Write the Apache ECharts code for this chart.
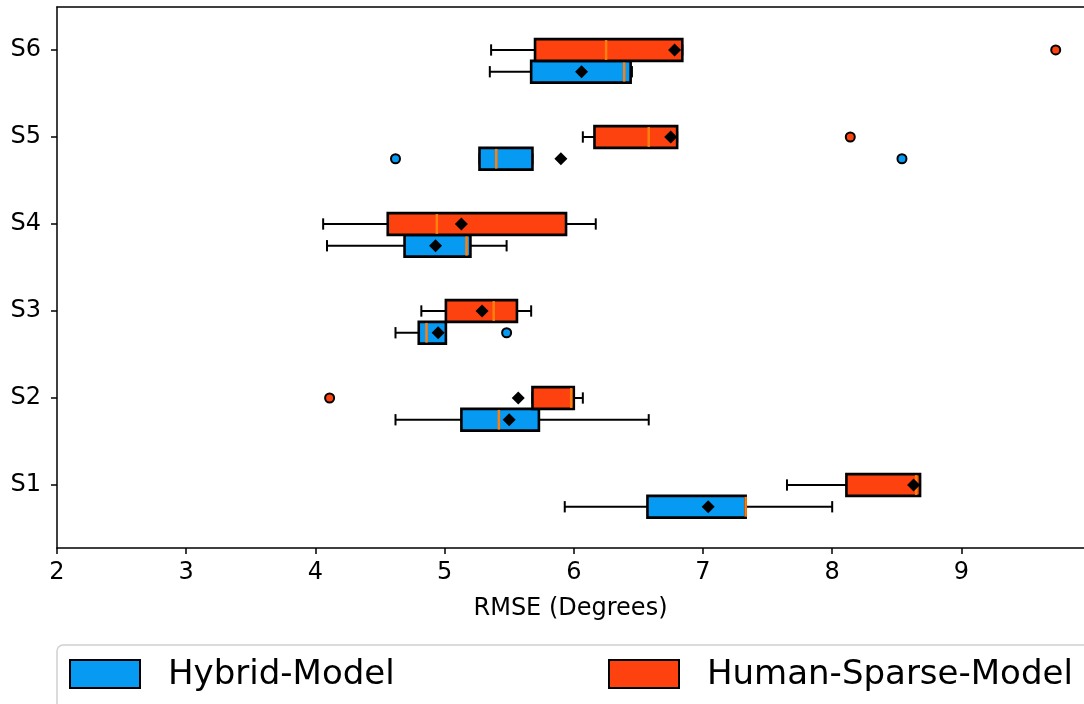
<!DOCTYPE html>
<html><head><meta charset="utf-8">
<script src="https://cdn.jsdelivr.net/npm/echarts@6/dist/echarts.min.js"></script>
<style>html,body{margin:0;padding:0;background:#fff}#c{width:1084px;height:704px}</style>
</head><body><div id="c"></div>
<script>
// Categories (bottom to top)
const categories = ['S1', 'S2', 'S3', 'S4', 'S5', 'S6'];
const xTicks = [2, 3, 4, 5, 6, 7, 8, 9];
const seriesNames = ['Hybrid-Model', 'Human-Sparse-Model'];

// [whiskerLow, Q1, median, Q3, whiskerHigh] per category
const hybridStats = [
  [5.93, 6.57, 7.33, 7.33, 8.00],
  [4.62, 5.13, 5.42, 5.73, 6.58],
  [4.62, 4.80, 4.86, 5.01, 5.01],
  [4.09, 4.69, 5.17, 5.20, 5.48],
  [5.27, 5.27, 5.40, 5.68, 5.68],
  [5.35, 5.67, 6.39, 6.44, 6.45]
];
const hybridMeans = [7.04, 5.50, 4.95, 4.93, 5.90, 6.06];
// [categoryIndex, value]
const hybridOutliers = [[2, 5.48], [4, 4.62], [4, 8.54]];

const humanStats = [
  [7.65, 8.11, 8.65, 8.68, 8.68],
  [5.68, 5.68, 5.98, 6.00, 6.07],
  [4.82, 5.01, 5.38, 5.56, 5.67],
  [4.06, 4.56, 4.94, 5.94, 6.17],
  [6.07, 6.16, 6.58, 6.80, 6.80],
  [5.36, 5.70, 6.25, 6.84, 6.84]
];
const humanMeans = [8.63, 5.57, 5.29, 5.13, 6.75, 6.78];
const humanOutliers = [[1, 4.11], [4, 8.14], [5, 9.73]];

const BLUE = '#069AF3', RED = '#FE420F', MEDIAN = '#ff7f0e';
const BOX_H = 0.25, CAP_H = 0.13;
const HYB_OFF = -0.25, HUM_OFF = 0;
const FONT = 'DejaVu Sans';

function boxData(stats, off) { return stats.map((s, i) => [i + 1 + off].concat(s)); }
function meanData(means, off) { return means.map((m, i) => [m, i + 1 + off]); }
function outlierData(outs, off) { return outs.map(o => [o[1], o[0] + 1 + off]); }

function renderBox(color) {
  return function (params, api) {
    const y = api.value(0);
    const wl = api.value(1), q1 = api.value(2), med = api.value(3), q3 = api.value(4), wh = api.value(5);
    const yc = api.coord([q1, y])[1];
    const h = api.size([0, BOX_H])[1];
    const ch = api.size([0, CAP_H])[1];
    const X = v => api.coord([v, y])[0];
    const xwl = X(wl), xq1 = X(q1), xmed = X(med), xq3 = X(q3), xwh = X(wh);
    const ls = { stroke: '#000', lineWidth: 2 };
    return {
      type: 'group',
      children: [
        { type: 'line', shape: { x1: xwl, y1: yc, x2: xq1, y2: yc }, style: ls },
        { type: 'line', shape: { x1: xq3, y1: yc, x2: xwh, y2: yc }, style: ls },
        { type: 'line', shape: { x1: xwl, y1: yc - ch / 2, x2: xwl, y2: yc + ch / 2 }, style: ls },
        { type: 'line', shape: { x1: xwh, y1: yc - ch / 2, x2: xwh, y2: yc + ch / 2 }, style: ls },
        { type: 'rect', shape: { x: xq1, y: yc - h / 2, width: xq3 - xq1, height: h },
          style: { fill: color, stroke: '#000', lineWidth: 2.6 } },
        { type: 'line', shape: { x1: xmed, y1: yc - h / 2 + 1, x2: xmed, y2: yc + h / 2 - 1 },
          style: { stroke: MEDIAN, lineWidth: 2.5 } }
      ]
    };
  };
}

const chart = echarts.init(document.getElementById('c'), null, { renderer: 'canvas' });
chart.setOption({
  animation: false,
  backgroundColor: '#fff',
  grid: { left: 57, top: 7, right: 0, bottom: 156, show: false },
  xAxis: [{
    type: 'value', min: 2, max: 9.949,
    splitLine: { show: false },
    axisLine: { show: true, lineStyle: { color: '#000', width: 1.5 } },
    axisTick: { show: true, length: 6, customValues: xTicks, lineStyle: { color: '#000', width: 1.5 } },
    axisLabel: { customValues: xTicks, color: '#000', fontSize: 24, fontFamily: FONT, margin: 13 },
    name: 'RMSE (Degrees)', nameLocation: 'middle', nameGap: 49,
    nameTextStyle: { color: '#000', fontSize: 24, fontFamily: FONT }
  }, {
    type: 'value', position: 'top', min: 2, max: 9.949,
    splitLine: { show: false }, axisTick: { show: false }, axisLabel: { show: false },
    axisLine: { show: true, lineStyle: { color: '#000', width: 1.5 } }
  }],
  yAxis: {
    type: 'value', min: 0.276, max: 6.494,
    splitLine: { show: false },
    axisLine: { show: true, lineStyle: { color: '#000', width: 1.5 } },
    axisTick: { show: true, length: 6, customValues: [1, 2, 3, 4, 5, 6], lineStyle: { color: '#000', width: 1.5 } },
    axisLabel: { customValues: [1, 2, 3, 4, 5, 6], formatter: v => categories[Math.round(v) - 1],
      color: '#000', fontSize: 24, fontFamily: FONT, margin: 16 }
  },
  series: [
    { name: seriesNames[0], type: 'custom', renderItem: renderBox(BLUE), clip: false,
      encode: { x: [1, 2, 3, 4, 5], y: 0 }, data: boxData(hybridStats, HYB_OFF), z: 2 },
    { name: seriesNames[1], type: 'custom', renderItem: renderBox(RED), clip: false,
      encode: { x: [1, 2, 3, 4, 5], y: 0 }, data: boxData(humanStats, HUM_OFF), z: 3 },
    { type: 'scatter', data: meanData(hybridMeans, HYB_OFF), symbol: 'diamond', symbolSize: 13,
      itemStyle: { color: '#000', opacity: 1 }, z: 10 },
    { type: 'scatter', data: meanData(humanMeans, HUM_OFF), symbol: 'diamond', symbolSize: 13,
      itemStyle: { color: '#000', opacity: 1 }, z: 10 },
    { type: 'scatter', data: outlierData(hybridOutliers, HYB_OFF), symbol: 'circle', symbolSize: 9,
      itemStyle: { color: BLUE, borderColor: '#000', borderWidth: 2, opacity: 1 }, z: 10 },
    { type: 'scatter', data: outlierData(humanOutliers, HUM_OFF), symbol: 'circle', symbolSize: 9,
      itemStyle: { color: RED, borderColor: '#000', borderWidth: 2, opacity: 1 }, z: 10 }
  ],
  graphic: [
    { type: 'rect', shape: { x: 57, y: 645, width: 1100, height: 90, r: 6 },
      style: { fill: '#fff', stroke: '#d0d0d0', lineWidth: 1.5 } },
    { type: 'rect', shape: { x: 70, y: 660, width: 70, height: 28 },
      style: { fill: BLUE, stroke: '#000', lineWidth: 2 } },
    { type: 'text', x: 168, y: 675, style: { text: seriesNames[0], fill: '#000', fontSize: 34,
      fontFamily: FONT, verticalAlign: 'middle', align: 'left' } },
    { type: 'rect', shape: { x: 609, y: 660, width: 70, height: 28 },
      style: { fill: RED, stroke: '#000', lineWidth: 2 } },
    { type: 'text', x: 707, y: 675, style: { text: seriesNames[1], fill: '#000', fontSize: 34,
      fontFamily: FONT, verticalAlign: 'middle', align: 'left' } }
  ]
});
</script></body></html>
